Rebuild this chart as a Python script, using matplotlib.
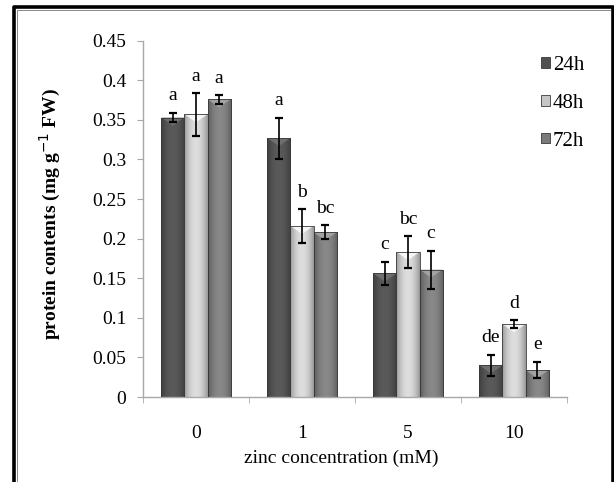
import matplotlib.pyplot as plt
import numpy as np
from matplotlib.lines import Line2D
from matplotlib.patches import Patch, Polygon
from matplotlib.colors import to_rgb

plt.rcParams['font.family'] = ['Liberation Serif', 'DejaVu Serif']

concentracoes = ['0', '1', '5', '10']
series = ['24h', '48h', '72h']
media_24 = [0.353, 0.327, 0.156, 0.040]
media_48 = [0.357, 0.216, 0.183, 0.092]
media_72 = [0.376, 0.208, 0.161, 0.034]
erro_24 = [0.006, 0.026, 0.015, 0.0135]
erro_48 = [0.027, 0.0215, 0.020, 0.005]
erro_72 = [0.0055, 0.009, 0.024, 0.0105]
letras_24 = ['a', 'a', 'c', 'de']
letras_48 = ['a', 'b', 'bc', 'd']
letras_72 = ['a', 'bc', 'c', 'e']

cores = ['#505050', '#c6c6c6', '#7a7a7a']

fig = plt.figure(figsize=(6.14, 4.82), dpi=100)
ax = fig.add_axes([143 / 614, 1 - 397 / 482, 424 / 614, (397 - 40.7) / 482])

x = np.arange(len(concentracoes))
w = 0.218
medias = [media_24, media_48, media_72]
erros = [erro_24, erro_48, erro_72]
letras = [letras_24, letras_48, letras_72]
ymax = 0.45
# altura do chanfro no topo (~8 px)
chanfro = ymax * 8 / 356.3


def sombrear(barra, cor):
    # gradiente horizontal para imitar o efeito 3D das barras
    base = np.array(to_rgb(cor))
    t = np.linspace(-1, 1, 40)
    fator = 1.12 - 0.35 * t ** 2
    img = np.clip(base[None, :] * fator[:, None], 0, 1)[None, :, :]
    x0, y0 = barra.get_x(), barra.get_y()
    x1, y1 = x0 + barra.get_width(), y0 + barra.get_height()
    im = ax.imshow(img, extent=[x0, x1, y0, y1], aspect='auto', zorder=2,
                   interpolation='bilinear')
    im.set_clip_path(barra)
    clara = np.clip(base * 1.3 + 0.05, 0, 1)
    tri = Polygon([[x0, y1], [x1, y1], [(x0 + x1) / 2, y1 - chanfro]],
                  closed=True, facecolor=clara, edgecolor='none', alpha=0.8, zorder=2.5)
    ax.add_patch(tri)


for k in range(3):
    pos = x + (k - 1) * w
    barras = ax.bar(pos, medias[k], w, color=cores[k], edgecolor='#3a3a3a',
                    linewidth=0.6, zorder=2)
    for b in barras:
        sombrear(b, cores[k])
        b.set_facecolor('none')
        b.set_zorder(3)
    ax.errorbar(pos, medias[k], yerr=erros[k], fmt='none', ecolor='black',
                elinewidth=1.2, capsize=3, capthick=1.6, zorder=4)
    for i in range(len(concentracoes)):
        ax.annotate(letras[k][i], (pos[i], medias[k][i] + erros[k][i]),
                    xytext=(0, 6), textcoords='offset points', ha='center',
                    va='bottom', fontsize=14)

ax.set_xlim(-0.5, 3.5)
ax.set_ylim(0, ymax)
ax.set_yticks(np.arange(0, 0.451, 0.05))
ax.set_yticklabels(['0', '0.05', '0.1', '0.15', '0.2', '0.25', '0.3', '0.35', '0.4', '0.45'])
ax.set_xticks(x)
ax.set_xticklabels(concentracoes)
ax.set_xticks(np.arange(-0.5, 3.6, 1), minor=True)

for lado in ['top', 'right']:
    ax.spines[lado].set_visible(False)
for lado in ['left', 'bottom']:
    ax.spines[lado].set_color('#a8a8a8')
    ax.spines[lado].set_linewidth(1.0)

ax.tick_params(axis='y', direction='out', length=4, color='#a8a8a8', pad=8, labelsize=14)
ax.tick_params(axis='x', which='major', length=0, pad=20, labelsize=14)
ax.tick_params(axis='x', which='minor', direction='out', length=4, color='#a8a8a8')

fig.text(341 / 614, 1 - 458 / 482, 'zinc concentration (mM)', ha='center', va='center', fontsize=14)
fig.text(50 / 614, 1 - 214 / 482, 'protein contents (mg g$^{-1}$ FW)', ha='center', va='center',
         rotation=90, fontsize=14, fontweight='bold')

handles = [Patch(facecolor=c, edgecolor='#3a3a3a', linewidth=0.6) for c in cores]
fig.legend(handles, series, loc='upper left', bbox_to_anchor=(541 / 614, 1 - 56 / 482),
           frameon=False, fontsize=15, handlelength=0.42, handleheight=0.42,
           handletextpad=0.15, labelspacing=0.9, borderaxespad=0, borderpad=0)

# moldura da figura
fig.add_artist(Line2D([13.5 / 614, 13.5 / 614, 612.5 / 614, 612.5 / 614],
                      [0, 1 - 7 / 482, 1 - 7 / 482, 0], transform=fig.transFigure,
                      color='black', linewidth=2.6))
fig.add_artist(Line2D([16.5 / 614, 16.5 / 614, 610 / 614], [0, 1 - 10 / 482, 1 - 10 / 482],
                      transform=fig.transFigure, color='#888888', linewidth=0.7))

fig.savefig('out.png', dpi=100)
